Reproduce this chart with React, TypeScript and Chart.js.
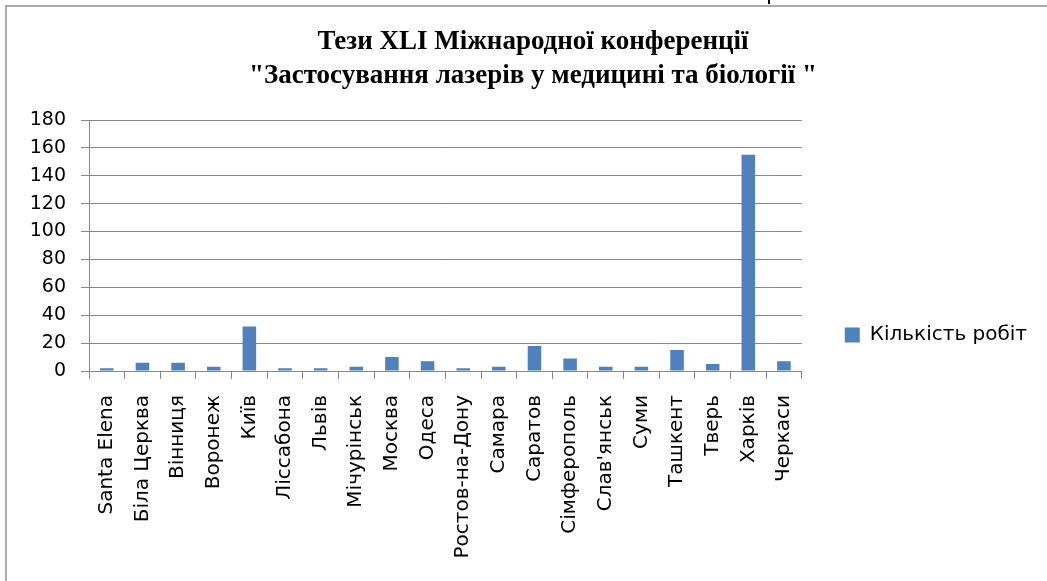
import React, { useEffect, useRef } from "react";
import { Chart, registerables } from "chart.js";

Chart.register(...registerables);

const categories = [
  "Santa Elena",
  "Біла Церква",
  "Вінниця",
  "Воронеж",
  "Київ",
  "Ліссабона",
  "Львів",
  "Мічурінськ",
  "Москва",
  "Одеса",
  "Ростов-на-Дону",
  "Самара",
  "Саратов",
  "Сімферополь",
  "Слав'янськ",
  "Суми",
  "Ташкент",
  "Тверь",
  "Харків",
  "Черкаси",
];

const workCounts = [2, 6, 6, 3, 32, 2, 2, 3, 10, 7, 2, 3, 18, 9, 3, 3, 15, 5, 155, 7];

const seriesLabel = "Кількість робіт";

const titleLines = [
  "Тези XLI Міжнародної конференції",
  "\"Застосування лазерів у медицині та біології \"",
];

const yMin = 0;
const yMax = 180;
const yStep = 20;

const CANVAS_W = 1052;
const CANVAS_H = 656;

export default function App() {
  const canvasRef = useRef<HTMLCanvasElement | null>(null);

  useEffect(() => {
    const canvas = canvasRef.current;
    if (!canvas) return;
    const chart = new Chart(canvas, {
      type: "bar",
      data: {
        labels: categories,
        datasets: [
          {
            label: seriesLabel,
            data: workCounts,
            backgroundColor: "#4F81BD",
            borderWidth: 0,
            categoryPercentage: 1,
            barPercentage: 0.38,
          },
        ],
      },
      options: {
        animation: false,
        responsive: false,
        maintainAspectRatio: false,
        devicePixelRatio: 1,
        layout: { padding: { left: 22, right: 22, top: 0, bottom: 0 } },
        plugins: {
          title: {
            display: true,
            text: titleLines,
            color: "#000",
            font: { family: "'Liberation Serif', serif", size: 27, weight: "bold", lineHeight: 34 / 27 },
            padding: { top: 18, bottom: 27 },
          },
          legend: {
            display: true,
            position: "right",
            align: "center",
            labels: {
              boxWidth: 15,
              boxHeight: 15,
              padding: 43,
              color: "#000",
              font: { family: "'DejaVu Sans', sans-serif", size: 20 },
            },
          },
          tooltip: { enabled: false },
        },
        scales: {
          x: {
            type: "category",
            afterFit: (scale: any) => {
              scale.height = CANVAS_H - 364;
            },
            grid: {
              display: true,
              offset: true,
              drawOnChartArea: false,
              drawTicks: true,
              tickLength: 8,
              color: "#888888",
            },
            border: { display: true, color: "#888888", width: 1 },
            ticks: {
              autoSkip: false,
              maxRotation: 90,
              minRotation: 90,
              padding: 16,
              color: "#000",
              font: { family: "'DejaVu Sans', sans-serif", size: 20 },
            },
          },
          y: {
            min: yMin,
            max: yMax,
            afterFit: (scale: any) => {
              scale.width = 60;
            },
            grid: {
              display: true,
              drawTicks: true,
              tickLength: 8,
              color: "#888888",
            },
            border: { display: true, color: "#888888", width: 1 },
            ticks: {
              stepSize: yStep,
              padding: 15,
              color: "#000",
              font: { family: "'DejaVu Sans', sans-serif", size: 19 },
            },
          },
        },
      },
    });
    return () => chart.destroy();
  }, []);

  return (
    <div
      style={{
        position: "fixed",
        left: 0,
        top: 0,
        width: 1047,
        height: 581,
        overflow: "hidden",
        background: "#fff",
      }}
    >
      <div
        style={{
          position: "absolute",
          left: 5,
          top: 5,
          width: 1100,
          height: 700,
          borderLeft: "2px solid #aaaaaa",
          borderTop: "2px solid #aaaaaa",
        }}
      />
      <div
        style={{
          position: "absolute",
          left: 768,
          top: 0,
          width: 2,
          height: 4,
          background: "#000",
        }}
      />
      <canvas
        ref={canvasRef}
        width={CANVAS_W}
        height={CANVAS_H}
        style={{ position: "absolute", left: 7, top: 7, width: CANVAS_W, height: CANVAS_H }}
      />
    </div>
  );
}
